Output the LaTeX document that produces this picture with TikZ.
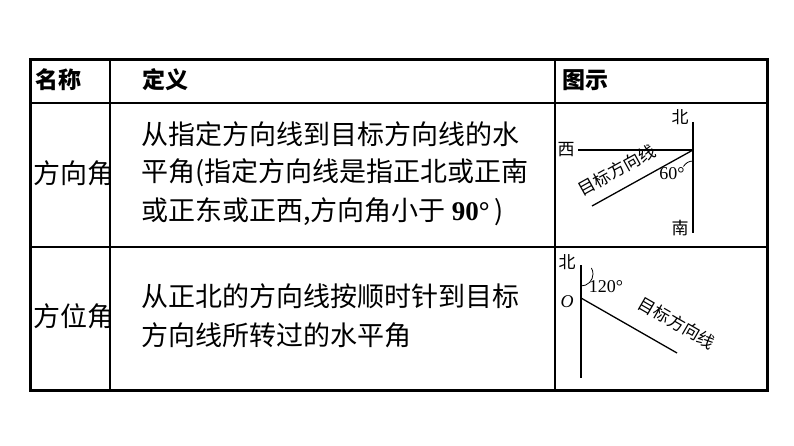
\documentclass[tikz,border=0pt]{standalone}
\usepackage{fontspec}
\setmainfont{Liberation Serif}
\newfontfamily\cjk{Noto Sans CJK SC}
\begin{document}
\begin{tikzpicture}[x=1pt,y=-1pt,
  body/.style={anchor=west,inner sep=0pt,font=\cjk\fontsize{27}{29}\selectfont},
  head/.style={anchor=west,inner sep=0pt,font=\cjk\bfseries\fontsize{23}{25}\selectfont},
  small/.style={inner sep=0pt,font=\cjk\fontsize{17}{19}\selectfont},
  deg/.style={inner sep=0pt,font=\fontsize{18}{19}\selectfont},
  ln/.style={line width=1.3pt}]
\useasboundingbox (0,0) rectangle (794,446);
\draw[line width=3pt] (30,60) rectangle (767,390);
\draw[line width=2pt] (30,103) -- (767,103) (30,247) -- (767,247) (110,60) -- (110,390) (555,60) -- (555,390);
\node[head] (h1) at (35,80) {名称};
\node[head] (h2) at (142,80) {定义};
\node[head] (h3) at (562,80) {图示};
\node[body] (n1) at (33,173) {方向角};
\node[body] (d1) at (141,134) {从指定方向线到目标方向线的水};
\node[body] (d2) at (141,173) {平角(指定方向线是指正北或正南};
\node[body] (d3) at (141,212) {或正东或正西,方向角小于 \textbf{\fontsize{27}{29}\selectfont\rmfamily 90°}\,)};
\node[body] (n2) at (33,316) {方位角};
\node[body] (e1) at (141,296) {从正北的方向线按顺时针到目标};
\node[body] (e2) at (141,335) {方向线所转过的水平角};
% diagram 1
\coordinate (o1) at (693,150);
\coordinate (n1t) at (693,122);
\coordinate (s1) at (693,233);
\coordinate (w1) at (578,150);
\coordinate (t1) at (592,206);
\draw[ln] (n1t) -- (s1);
\draw[ln] (w1) -- (o1);
\draw[ln] (o1) -- (t1);
\draw[line width=0.8pt] (693,161) arc[start angle=-90,end angle=-150,radius=11];
\node[small] (lb1) at (680,117) {北};
\node[small] (lb2) at (566,150) {西};
\node[small] (lb3) at (680,228) {南};
\node[deg] (a1) at (672,174) {60°};
\node[small,rotate=29] (tl1) at (617,170) {目标方向线};
% diagram 2
\coordinate (o2) at (581,298);
\coordinate (n2t) at (581,265);
\coordinate (s2) at (581,378);
\coordinate (t2) at (677,353);
\draw[ln] (n2t) -- (s2);
\draw[ln] (o2) -- (t2);
\draw[line width=0.8pt] (581,286) arc[start angle=90,end angle=-30,radius=12];
\node[small] (lb4) at (567,262) {北};
\node[deg] (oo) at (567,302) {\itshape O};
\node[deg] (a2) at (606,287) {120°};
\node[small,rotate=-30] (tl2) at (677,323) {目标方向线};
\end{tikzpicture}
\end{document}
